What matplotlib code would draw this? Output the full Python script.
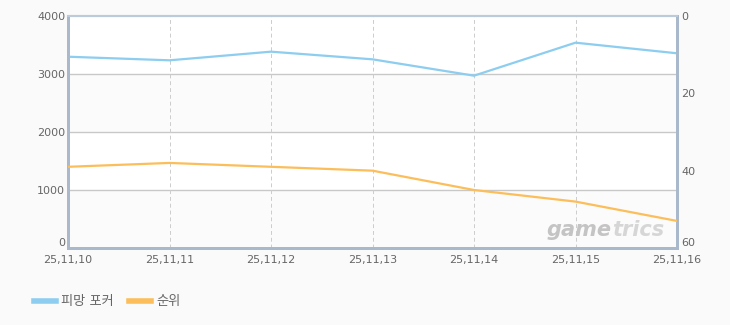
import matplotlib.pyplot as plt
from matplotlib.lines import Line2D

plt.rcParams['font.family'] = ['DejaVu Sans', 'Noto Sans CJK KR']

dates = ['25,11,10', '25,11,11', '25,11,12', '25,11,13', '25,11,14', '25,11,15', '25,11,16']
users = [3298, 3236, 3385, 3253, 2971, 3540, 3357]
ranks = [39, 38, 39, 40, 45, 48, 53]
left_ticks = [0, 1000, 2000, 3000, 4000]
right_ticks = [0, 20, 40, 60]

blue = '#8dcdf0'
orange = '#fcbe5a'
spine_col = '#a9b9cb'
text_col = '#666666'

fig = plt.figure(figsize=(7.3, 3.25), dpi=100, facecolor='#fafafa')
ax = fig.add_axes([68 / 730, 1 - 248 / 325, (677 - 68) / 730, (248 - 16) / 325])
ax.set_facecolor('white')

x = list(range(len(dates)))
ax.set_xlim(0, len(dates) - 1)
ax.set_ylim(0, 4000)

# alternating bands
for i, lo in enumerate(left_ticks[:-1]):
    if i % 2 == 0:
        ax.axhspan(lo, left_ticks[i + 1], color='#fbfbfb', zorder=0, lw=0)

for t in left_ticks[1:-1]:
    ax.axhline(t, color='#c8c8c8', lw=1, zorder=1)
for xi in x[1:-1]:
    ax.axvline(xi, color='#cccccc', lw=0.7, ls=(0, (4, 3)), zorder=1)

ax.plot(x, users, color=blue, lw=1.6, zorder=3)

ax2 = ax.twinx()
ax2.set_ylim(60, 0)
ax2.plot(x, ranks, color=orange, lw=1.6, zorder=3)

ax.set_xticks(x)
ax.set_xticklabels(dates)
ax.set_yticks(left_ticks)
ax2.set_yticks(right_ticks)
ax.tick_params(axis='x', length=0, labelsize=8, colors=text_col, pad=5)
ax.tick_params(axis='y', length=0, labelsize=8, colors=text_col, pad=2)
ax2.tick_params(axis='y', length=0, labelsize=8, colors=text_col, pad=3)
ax.get_yticklabels()[0].set_verticalalignment('bottom')
ax2.get_yticklabels()[-1].set_verticalalignment('bottom')

for a in (ax, ax2):
    for side in ('left', 'right', 'bottom'):
        a.spines[side].set_color(spine_col)
        a.spines[side].set_linewidth(2)
    a.spines['top'].set_color('#bccbda')
    a.spines['top'].set_linewidth(1.5)

# watermark
wm = dict(transform=ax.transAxes, va='baseline', fontsize=15, fontstyle='italic',
          fontweight='bold', zorder=2)
ax.text(0.893, 0.05, 'game', ha='right', color='#c4c4c4', **wm)
ax.text(0.893, 0.05, 'trics', ha='left', color='#d6d6d6', **wm)

handles = [Line2D([], [], color=blue, lw=4), Line2D([], [], color=orange, lw=4)]
fig.legend(handles, ['피망 포커', '순위'], loc='center left', bbox_to_anchor=(0.03, 1 - 302 / 325),
           ncol=2, frameon=False, fontsize=9.5, handlelength=1.7, handletextpad=0.4,
           columnspacing=1.1, labelcolor=text_col)

fig.savefig('out.png', dpi=100, facecolor=fig.get_facecolor())
